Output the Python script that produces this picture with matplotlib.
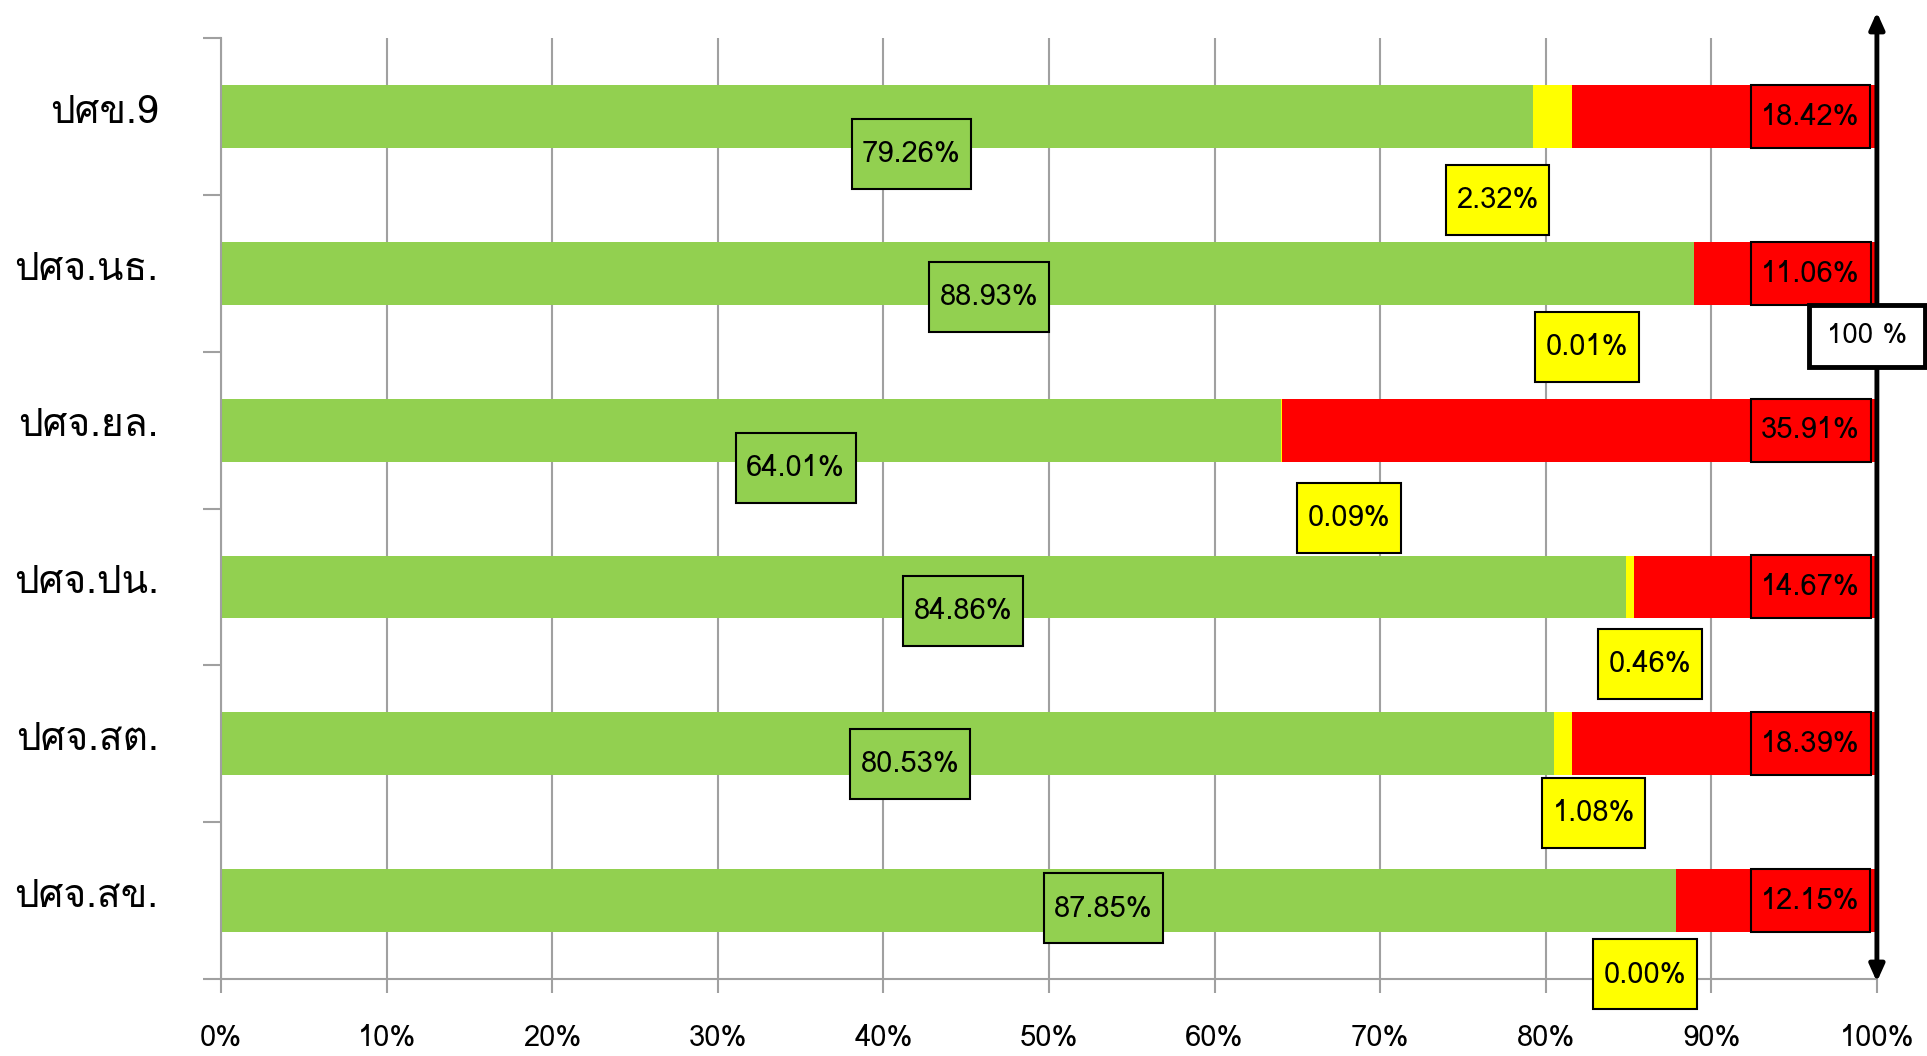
import matplotlib
matplotlib.use("Agg")
import matplotlib.pyplot as plt
from matplotlib import font_manager, ft2font
from matplotlib.path import Path

# categories (top to bottom) and the three stacked series, in percent
categories = ["ปศข.9", "ปศจ.นธ.", "ปศจ.ยล.", "ปศจ.ปน.", "ปศจ.สต.", "ปศจ.สข."]
green_vals = [79.26, 88.93, 64.01, 84.86, 80.53, 87.85]
yellow_vals = [2.32, 0.01, 0.09, 0.46, 1.08, 0.00]
red_vals = [18.42, 11.06, 35.91, 14.67, 18.39, 12.15]
x_ticks = [0, 10, 20, 30, 40, 50, 60, 70, 80, 90, 100]

# where the hand-placed data label boxes sit (x in %, y offset in category units)
green_lab_x = [41.7, 46.4, 34.7, 44.8, 41.6, 53.3]
green_lab_dy = [0.24, 0.15, 0.24, 0.15, 0.13, 0.05]
yellow_lab_x = [77.1, 82.5, 68.1, 86.3, 82.9, 86.0]
yellow_lab_dy = [0.53, 0.47, 0.56, 0.49, 0.44, 0.47]
red_lab_x = 96.0

GREEN, YELLOW, RED = "#92D050", "#FFFF00", "#FF0000"


# find a font that can draw Thai
def thai_family():
    for f in font_manager.fontManager.ttflist:
        try:
            if ft2font.FT2Font(f.fname).get_char_index(0x0E1B):
                return f.name
        except Exception:
            pass
    return None


th = thai_family()
fams = [th, "DejaVu Sans"] if th else ["DejaVu Sans"]
plt.rcParams["font.family"] = fams


# rectangle box with its own x and y padding
def box_style(padx, pady):
    def style(x0, y0, w, h, mutation_size):
        px, py = padx * mutation_size, pady * mutation_size
        x0, y0, w, h = x0 - px, y0 - py, w + 2 * px, h + 2 * py
        return Path([(x0, y0), (x0 + w, y0), (x0 + w, y0 + h), (x0, y0 + h), (x0, y0)],
                    closed=True)
    return style


fig = plt.figure(figsize=(19.27, 10.56), dpi=100)
ax = fig.add_axes([0.1147, 0.0729, 0.8593, 0.891])

y = list(range(len(categories)))
left_y = [g + yy for g, yy in zip(green_vals, yellow_vals)]
ax.barh(y, green_vals, height=0.4, color=GREEN, zorder=2)
ax.barh(y, yellow_vals, left=green_vals, height=0.4, color=YELLOW, zorder=2)
ax.barh(y, red_vals, left=left_y, height=0.4, color=RED, zorder=2)

ax.set_xlim(0, 100)
ax.set_ylim(5.5, -0.5)
ax.set_xticks(x_ticks)
ax.set_xticklabels([f"{t}%" for t in x_ticks], fontsize=21)
ax.tick_params(axis="x", length=10, width=1.5, color="#A0A0A0", pad=22)

# tick marks between categories, labels at the centres
ax.set_yticks([i - 0.5 for i in range(len(categories) + 1)])
ax.set_yticklabels([])
ax.tick_params(axis="y", which="major", length=13, width=1.5, color="#A0A0A0")
ax.set_yticks([i - 0.05 for i in y], minor=True)
ax.set_yticklabels(categories, minor=True, fontsize=28)
ax.tick_params(axis="y", which="minor", length=0, pad=45)

ax.grid(axis="x", color="#A0A0A0", linewidth=1.5, zorder=0)
ax.set_axisbelow(True)
for s in ["top", "right"]:
    ax.spines[s].set_visible(False)
for s in ["left", "bottom"]:
    ax.spines[s].set_color("#A0A0A0")
    ax.spines[s].set_linewidth(1.5)


def label(x, yy, txt, fc, pady=0.72):
    ax.text(x, yy, txt, ha="center", va="center", fontsize=21, zorder=5,
            bbox=dict(boxstyle=box_style(0.36, pady), fc=fc, ec="black", lw=1.5))


for i in y:
    label(green_lab_x[i], i + green_lab_dy[i], f"{green_vals[i]:.2f}%", GREEN)
    label(yellow_lab_x[i], i + yellow_lab_dy[i], f"{yellow_vals[i]:.2f}%", YELLOW)
    label(red_lab_x, i, f"{red_vals[i]:.2f}%", RED, pady=0.6)

# 100 % double arrow
tr = ax.get_xaxis_transform()
ax.annotate("", xy=(100, 1.0276), xycoords=tr, xytext=(100, -0.003), textcoords=tr,
            arrowprops=dict(arrowstyle="<|-|>,head_length=1.0,head_width=0.45",
                            color="black", lw=3.5, shrinkA=0, shrinkB=0),
            annotation_clip=False, zorder=6)
ax.text(99.4, 0.683, "100 %", transform=tr, ha="center", va="center", fontsize=20,
        zorder=7, clip_on=False,
        bbox=dict(boxstyle="square,pad=0.65", fc="white", ec="black", lw=3.5))

fig.savefig("out.png", dpi=100)
